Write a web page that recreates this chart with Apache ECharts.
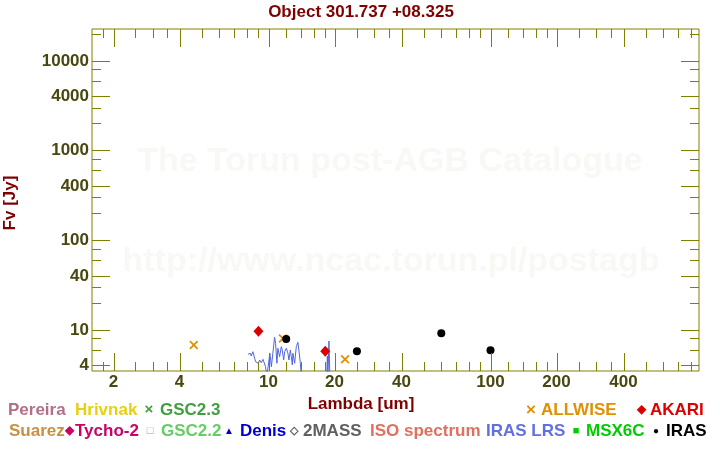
<!DOCTYPE html>
<html><head><meta charset="utf-8">
<script src="https://cdn.jsdelivr.net/npm/echarts@6/dist/echarts.min.js"></script>
<style>html,body{margin:0;padding:0;background:#fff}#c{width:720px;height:450px}</style>
</head><body><div id="c"></div>
<script>
// ---- data ----
const allwiseLambda = [4.6, 11.6, 22.1];
const allwiseFlux   = [6.75, 7.98, 4.68];
const akariLambda   = [9, 18];
const akariFlux     = [9.6, 5.74];
const irasLambda    = [12, 25, 60, 100];
const irasFlux      = [7.87, 5.74, 9.12, 5.89];
const lrsLambda = [8.07,8.27,8.35,8.49,8.65,8.74,8.86,8.99,9.11,9.27,9.43,9.59,9.69,9.82,10.13,10.18,10.29,10.45,10.64,10.75,10.90,11.01,11.21,11.41,11.52,11.69,11.81,12.02,12.22,12.35,12.53,12.66,12.79,12.87,13.10,13.33,13.55,13.69,13.90,14.05,18.27,18.40,18.51,18.70,18.89,22.6];
const lrsFlux   = [5.31,5.45,5.08,5.68,4.80,4.39,4.51,4.22,4.59,4.28,4.67,4.59,3.86,3.0,5.45,5.0,3.86,5.45,8.22,7.05,4.22,6.20,5.0,6.46,5.93,4.59,5.68,6.20,5.45,4.59,5.93,5.0,4.04,5.45,4.22,6.46,7.23,5.93,4.22,3.0,3.0,5.08,3.0,7.48,3.0,3.0];
const xMajorTicks = [2,4,10,20,40,100,200,400];
const xMinorTicks = [1.8,2.5,3,3.5,5,6,7,8,9,12,14,16,18,25,30,35,50,60,70,80,90,120,140,160,180,250,300,350,500,600,700,800];
const yMajorTicks = [4,10,40,100,400,1000,4000,10000];
const yMinorTicks = [6,8,20,30,60,80,200,300,600,800,2000,3000,6000,8000,20000];
const xRange = [1.6, 870];
const yRange = [3.46, 22600];

const titleText = 'Object 301.737 +08.325';
const xName = 'Lambda [um]';
const yName = 'Fv [Jy]';
const legendNames = ['Pereira','Hrivnak','GSC2.3','ALLWISE','AKARI','Suarez','Tycho-2','GSC2.2','Denis','2MASS','ISO spectrum','IRAS LRS','MSX6C','IRAS'];

// ---- styles ----
const AX = '#808000';
const LBL = '#47470f';
const FONT = '"Liberation Sans", Arial, Helvetica, sans-serif';
const FS = 17;
const crossPath = 'path://M0,1.4L1.4,0L5,3.6L8.6,0L10,1.4L6.4,5L10,8.6L8.6,10L5,6.4L1.4,10L0,8.6L3.6,5Z';

const zip = (a, b) => a.map((v, i) => [v, b[i]]);
const snap = v => Math.round(v) + 0.5;

function xTicks(params, api) {
  const cs = params.coordSys;
  const v = api.value(0);
  const major = api.value(2) === 1;
  const px = snap(api.coord([v, 10])[0]);
  const len = major ? 18 : 9;
  const b = cs.y + cs.height;
  const st = {stroke: AX, lineWidth: 1};
  const ch = [
    {type: 'line', shape: {x1: px, y1: b, x2: px, y2: b - len}, style: st},
    {type: 'line', shape: {x1: px, y1: cs.y, x2: px, y2: cs.y + len}, style: st}
  ];
  if (major) ch.push({type: 'text', x: px - 1, y: b + 11, style: {text: String(v), fill: LBL,
    font: 'bold ' + FS + 'px ' + FONT, align: 'center', verticalAlign: 'middle'}});
  return {type: 'group', children: ch};
}
function yTicks(params, api) {
  const cs = params.coordSys;
  const v = api.value(1);
  const major = api.value(2) === 1;
  const py = snap(api.coord([10, v])[1]);
  const len = major ? 18 : 9;
  const r = cs.x + cs.width;
  const st = {stroke: AX, lineWidth: 1};
  const ch = [
    {type: 'line', shape: {x1: cs.x, y1: py, x2: cs.x + len, y2: py}, style: st},
    {type: 'line', shape: {x1: r, y1: py, x2: r - len, y2: py}, style: st}
  ];
  if (major) ch.push({type: 'text', x: cs.x - 3, y: py, style: {text: String(v), fill: LBL,
    font: 'bold ' + FS + 'px ' + FONT, align: 'right', verticalAlign: 'middle'}});
  return {type: 'group', children: ch};
}

function lt(x, y, text, color, size, align) {
  return {type: 'text', x: x, y: y, style: {text: text, fill: color,
    font: 'bold ' + (size || FS) + 'px ' + FONT, align: align || 'left', verticalAlign: 'middle'}};
}

const R1 = 410, R2 = 431;
const chart = echarts.init(document.getElementById('c'), null, {renderer: 'canvas'});
chart.setOption({
  animation: false,
  backgroundColor: '#fff',
  grid: {left: 92, top: 29, width: 607, height: 342, show: true, borderColor: AX, borderWidth: 1, backgroundColor: 'transparent'},
  xAxis: {type: 'log', logBase: 10, min: xRange[0], max: xRange[1],
    axisLine: {show: false}, axisTick: {show: false}, axisLabel: {show: false}, splitLine: {show: false}},
  yAxis: {type: 'log', logBase: 10, min: yRange[0], max: yRange[1],
    axisLine: {show: false}, axisTick: {show: false}, axisLabel: {show: false}, splitLine: {show: false}},
  graphic: [
    {type: 'text', x: 390, y: 162, z: -10, style: {text: 'The Torun post-AGB Catalogue', fill: '#f8f8f5',
      font: 'bold 34px ' + FONT, align: 'center', verticalAlign: 'middle'}},
    {type: 'text', x: 391, y: 262, z: -10, style: {text: 'http://www.ncac.torun.pl/postagb', fill: '#f8f8f5',
      font: 'bold 34px ' + FONT, align: 'center', verticalAlign: 'middle'}},
    lt(361, 12, titleText, '#800000', FS, 'center'),
    lt(361, 404, xName, '#800000', FS, 'center'),
    {type: 'text', x: 10, y: 203, rotation: Math.PI / 2, style: {text: yName, fill: '#800000', font: 'bold ' + FS + 'px ' + FONT, align: 'center', verticalAlign: 'middle'}},
    // legend row 1
    lt(8, R1, legendNames[0], '#b07088'),
    lt(75, R1, legendNames[1], '#e8d010'),
    lt(149, R1, '×', '#40a040', 15, 'center'),
    lt(160, R1, legendNames[2], '#40a040'),
    lt(531, R1, '×', '#e09000', 17, 'center'),
    lt(541, R1, legendNames[3], '#e09000'),
    lt(641, R1, '◆', '#dd0000', 12, 'center'),
    lt(650, R1, legendNames[4], '#dd0000'),
    // legend row 2
    lt(9, R2, legendNames[5], '#c89040'),
    lt(69, R2, '◆', '#cc0066', 12, 'center'),
    lt(75, R2, legendNames[6], '#cc0066'),
    lt(150, R2, '□', '#66cc66', 11, 'center'),
    lt(161, R2, legendNames[7], '#66cc66'),
    lt(229, R2, '▲', '#0000cc', 10, 'center'),
    lt(240, R2, legendNames[8], '#0000cc'),
    lt(294, R2, '◇', '#606060', 11, 'center'),
    lt(303, R2, legendNames[9], '#606060'),
    lt(370, R2, legendNames[10], '#e07060'),
    lt(486, R2, legendNames[11], '#6070e0'),
    lt(576, R2, '■', '#00cc00', 11, 'center'),
    lt(586, R2, legendNames[12], '#00cc00'),
    lt(656, R2, '●', '#000000', 10, 'center'),
    lt(666, R2, legendNames[13], '#000000')
  ],
  series: [
    {type: 'custom', renderItem: xTicks, silent: true, z: 5,
      data: xMajorTicks.map(v => [v, 10, 1]).concat(xMinorTicks.map(v => [v, 10, 0]))},
    {type: 'custom', renderItem: yTicks, silent: true, z: 5,
      data: yMajorTicks.map(v => [10, v, 1]).concat(yMinorTicks.map(v => [10, v, 0]))},
    {name: 'IRAS LRS', type: 'line', data: zip(lrsLambda, lrsFlux), symbol: 'none', clip: true,
      lineStyle: {color: '#5064e0', width: 1}, z: 3},
    {name: 'AKARI', type: 'scatter', data: zip(akariLambda, akariFlux), symbol: 'diamond', symbolSize: [10, 11],
      itemStyle: {color: '#dd0000', opacity: 1}, z: 4},
    {name: 'ALLWISE', type: 'scatter', data: zip(allwiseLambda, allwiseFlux), symbol: crossPath, symbolSize: 9,
      itemStyle: {color: '#e09000', opacity: 1}, z: 4},
    {name: 'IRAS', type: 'scatter', data: zip(irasLambda, irasFlux), symbol: 'circle', symbolSize: 8,
      itemStyle: {color: '#000000', opacity: 1}, z: 4}
  ]
});
</script>
</body></html>
